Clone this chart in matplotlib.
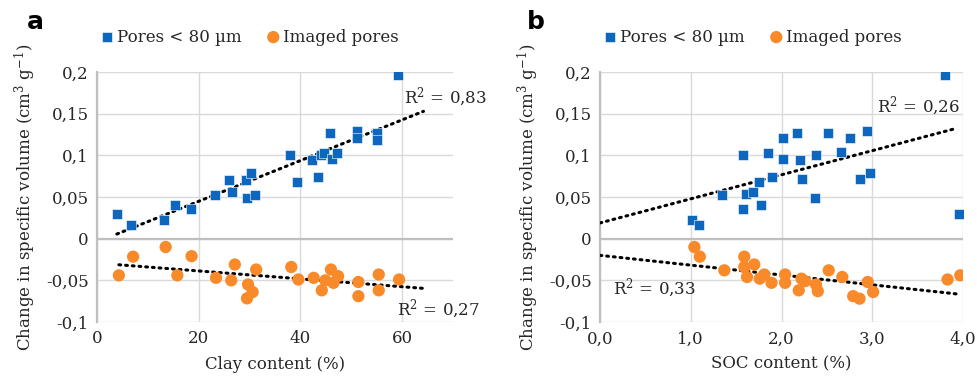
import numpy as np
import matplotlib
matplotlib.use("Agg")
import matplotlib.pyplot as plt

# ---------------- data ----------------
clay_blue = [3.9, 6.6, 13.1, 15.4, 18.4, 23.2, 26.0, 26.6, 29.3, 30.3, 29.5, 31.0,
             37.9, 39.4, 42.2, 43.5, 44.1, 44.7, 45.9, 46.3, 47.2, 51.1, 51.1, 55.0, 55.0, 59.2]
vol_blue_a = [0.030, 0.017, 0.022, 0.040, 0.036, 0.053, 0.071, 0.056, 0.071, 0.079, 0.049, 0.052,
              0.100, 0.0675, 0.094, 0.074, 0.100, 0.103, 0.127, 0.096, 0.103, 0.129, 0.121, 0.127, 0.119, 0.197]
clay_orange = [4.3, 7.1, 13.5, 15.8, 18.6, 23.4, 26.4, 27.1, 31.3, 29.7, 30.6, 29.5,
               38.2, 39.6, 42.6, 44.2, 44.9, 46.0, 46.5, 47.4, 51.4, 51.4, 55.4, 55.4, 59.4]
vol_orange_a = [-0.044, -0.0216, -0.010, -0.044, -0.021, -0.047, -0.050, -0.031, -0.037, -0.055, -0.064, -0.0716,
                 -0.034, -0.049, -0.047, -0.062, -0.050, -0.037, -0.053, -0.045, -0.052, -0.069, -0.043, -0.062, -0.049]

soc_blue = [1.01, 1.09, 1.34, 1.575, 1.575, 1.61, 1.69, 1.75, 1.77, 1.85, 1.89, 2.02, 2.02,
            2.17, 2.20, 2.23, 2.37, 2.38, 2.51, 2.66, 2.76, 2.86, 2.94, 2.98, 3.80, 3.96]
vol_blue_b = [0.022, 0.017, 0.052, 0.100, 0.036, 0.054, 0.056, 0.0675, 0.040, 0.103, 0.074, 0.121, 0.096,
              0.127, 0.094, 0.0716, 0.049, 0.100, 0.127, 0.104, 0.121, 0.0716, 0.129, 0.079, 0.197, 0.030]
soc_orange = [1.04, 1.10, 1.37, 1.59, 1.59, 1.62, 1.70, 1.76, 1.81, 1.89, 2.04, 2.04,
              2.19, 2.22, 2.26, 2.38, 2.40, 2.52, 2.67, 2.79, 2.86, 2.95, 3.01, 3.83, 3.97]
vol_orange_b = [-0.010, -0.0216, -0.038, -0.0216, -0.034, -0.046, -0.031, -0.048, -0.043, -0.053, -0.043, -0.053,
                -0.062, -0.048, -0.051, -0.055, -0.063, -0.038, -0.046, -0.069, -0.072, -0.052, -0.064, -0.049, -0.044]

r2_labels = {"a_blue": "R$^2$ = 0,83", "a_orange": "R$^2$ = 0,27",
             "b_blue": "R$^2$ = 0,26", "b_orange": "R$^2$ = 0,33"}
yticks = [-0.1, -0.05, 0, 0.05, 0.1, 0.15, 0.2]
ytick_labels = ["-0,1", "-0,05", "0", "0,05", "0,1", "0,15", "0,2"]
xticks_a = [0, 20, 40, 60]
xtick_labels_a = ["0", "20", "40", "60"]
xticks_b = [0, 1, 2, 3, 4]
xtick_labels_b = ["0,0", "1,0", "2,0", "3,0", "4,0"]
legend_labels = ["Pores < 80 µm", "Imaged pores"]

BLUE = "#0E67BE"
ORANGE = "#F88A2A"
GRID = "#d9d9d9"
AXC = "#bfbfbf"
SERIF = ["DejaVu Serif"]
FS = 12.0
TXT = "#262626"

plt.rcParams["font.family"] = SERIF
plt.rcParams["mathtext.fontset"] = "dejavuserif"

fig = plt.figure(figsize=(9.78, 3.88), dpi=100)
ax_a = fig.add_axes([97/978, 66/388, 356/978, 250/388])
ax_b = fig.add_axes([600/978, 66/388, 363/978, 250/388])


def style(ax, xlim, xticks, xlabels, xlabel):
    ax.set_xlim(*xlim)
    ax.set_ylim(-0.1, 0.2)
    ax.set_yticks(yticks)
    ax.set_yticklabels(ytick_labels)
    ax.set_xticks(xticks)
    ax.set_xticklabels(xlabels)
    ax.grid(True, color=GRID, lw=1.0, zorder=0)
    ax.set_axisbelow(True)
    for s in ["top", "right", "bottom"]:
        ax.spines[s].set_visible(False)
    ax.spines["left"].set_color(AXC)
    ax.spines["left"].set_linewidth(1.6)
    ax.axhline(0, color=AXC, lw=1.6, zorder=1)
    ax.tick_params(length=0, labelsize=FS, pad=6, colors=TXT)
    ax.set_xlabel(xlabel, fontsize=FS, color=TXT, labelpad=6)
    ax.set_ylabel("Change in specific volume (cm$^3$ g$^{-1}$)", fontsize=FS,
                  color=TXT, labelpad=6)


def trend(ax, x, y, x0, x1):
    k, b = np.polyfit(np.asarray(x), np.asarray(y), 1)
    xs = np.array([x0, x1])
    ax.plot(xs, k * xs + b, color="black", lw=2.2, linestyle=(0, (0.6, 1.6)),
            dash_capstyle="round", zorder=3)


for ax, xb, yb, xo, yo, xlim, xt, xl, xlabel, fwd0 in [
        (ax_a, clay_blue, vol_blue_a, clay_orange, vol_orange_a, (0, 70), xticks_a, xtick_labels_a,
         "Clay content (%)", None),
        (ax_b, soc_blue, vol_blue_b, soc_orange, vol_orange_b, (0, 4), xticks_b, xtick_labels_b,
         "SOC content (%)", 0.0)]:
    style(ax, xlim, xt, xl, xlabel)
    ax.scatter(xb, yb, marker="s", s=50, color=BLUE, edgecolor="white", linewidth=0.4,
               zorder=4, label=legend_labels[0])
    ax.scatter(xo, yo, marker="o", s=78, color=ORANGE, edgecolor="none",
               zorder=4, label=legend_labels[1])
    if fwd0 is None:
        trend(ax, xb, yb, min(xb), max(xb) + 5)
        trend(ax, xo, yo, min(xo), max(xo) + 5)
    else:
        trend(ax, xb, yb, 0.0, max(xb) - 0.03)
        trend(ax, xo, yo, 0.0, max(xo) - 0.02)
    leg = ax.legend(loc="center left", bbox_to_anchor=(0.0, 1.14), ncol=2, frameon=False,
                    fontsize=FS, handletextpad=0.1, columnspacing=1.4, borderaxespad=0,
                    handlelength=1.0, borderpad=0.1)
    for t in leg.get_texts():
        t.set_color(TXT)

ax_a.text(60.4, 0.170, r2_labels["a_blue"], fontsize=FS, va="center", ha="left", color=TXT)
ax_a.text(59.0, -0.085, r2_labels["a_orange"], fontsize=FS, va="center", ha="left", color=TXT)
ax_b.text(3.05, 0.159, r2_labels["b_blue"], fontsize=FS, va="center", ha="left", color=TXT)
ax_b.text(0.14, -0.060, r2_labels["b_orange"], fontsize=FS, va="center", ha="left", color=TXT)

fig.text(27/978, 1 - 22/388, "a", fontsize=18, fontweight="bold", family="DejaVu Sans",
         va="center", ha="left")
fig.text(527/978, 1 - 22/388, "b", fontsize=18, fontweight="bold", family="DejaVu Sans",
         va="center", ha="left")

fig.savefig("out.png", dpi=100)
